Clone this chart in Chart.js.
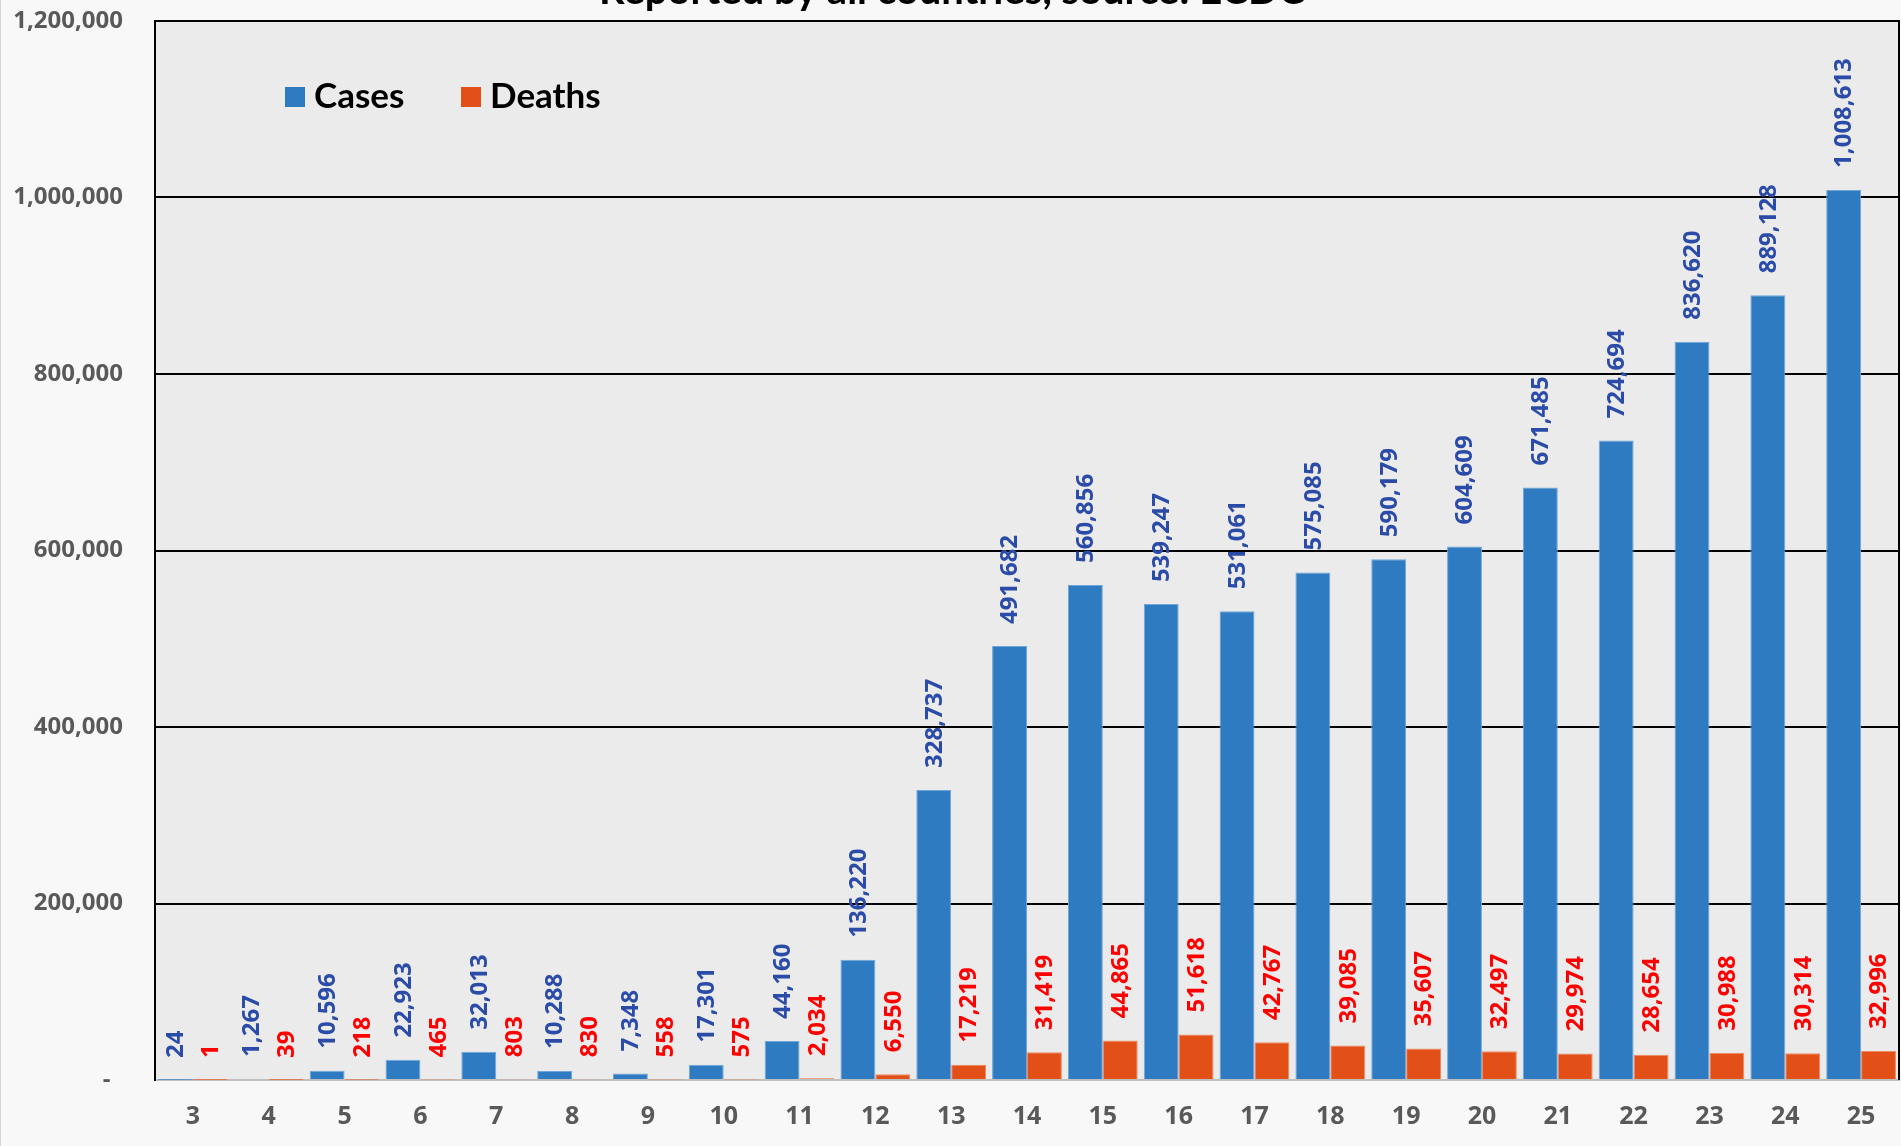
<!DOCTYPE html>
<html>
<head>
<meta charset="utf-8">
<script src="https://cdn.jsdelivr.net/npm/chart.js@4/dist/chart.umd.min.js"></script>
<style>
  html, body { margin: 0; padding: 0; background: #f8f8f8; }
  canvas { display: block; }
</style>
</head>
<body>
<canvas id="weekChart" width="1901" height="1146"></canvas>
<script>
const weeks = ["3", "4", "5", "6", "7", "8", "9", "10", "11", "12", "13", "14",
  "15", "16", "17", "18", "19", "20", "21", "22", "23", "24", "25"];
const cases = [24, 1267, 10596, 22923, 32013, 10288, 7348, 17301, 44160, 136220,
  328737, 491682, 560856, 539247, 531061, 575085, 590179, 604609, 671485, 724694,
  836620, 889128, 1008613];
const deaths = [1, 39, 218, 465, 803, 830, 558, 575, 2034, 6550, 17219, 31419,
  44865, 51618, 42767, 39085, 35607, 32497, 29974, 28654, 30988, 30314, 32996];
const titleText = "Reported by all countries, source: ECDC";

const headFont = "Lato, 'Open Sans', sans-serif";
const sans = "'Open Sans', 'DejaVu Sans', sans-serif";
const fmt = v => v.toLocaleString("en-US");

// background, plot fill, outer frame, title and in-plot legend
const frame = {
  id: "frame",
  beforeDraw(chart) {
    const { ctx, chartArea: a } = chart;
    ctx.save();
    ctx.fillStyle = "#f8f8f8";
    ctx.fillRect(0, 0, chart.width, chart.height);
    ctx.fillStyle = "#ebebeb";
    ctx.fillRect(a.left, a.top, a.right - a.left, a.bottom - a.top);
    ctx.strokeStyle = "#d4d4d4";
    ctx.lineWidth = 1;
    ctx.beginPath();
    ctx.moveTo(0.5, 0);
    ctx.lineTo(0.5, chart.height);
    ctx.stroke();
    ctx.restore();
  },
  afterDraw(chart) {
    const { ctx, chartArea: a } = chart;
    ctx.save();
    ctx.strokeStyle = "#000";
    ctx.lineWidth = 2;
    ctx.beginPath();
    ctx.moveTo(a.left, a.top);
    ctx.lineTo(a.right, a.top);
    ctx.lineTo(a.right, a.bottom);
    ctx.stroke();

    ctx.fillStyle = "#000";
    ctx.font = "bold 40px " + headFont;
    ctx.textAlign = "center";
    ctx.textBaseline = "alphabetic";
    ctx.fillText(titleText, 952, 4);

    // legend
    ctx.font = "bold 35px " + headFont;
    ctx.textAlign = "left";
    ctx.textBaseline = "middle";
    const items = [[285, "Cases", "#2f7bc2"], [461, "Deaths", "#e35017"]];
    items.forEach(([x, label, col]) => {
      ctx.fillStyle = col;
      ctx.fillRect(x, 87, 20, 20);
      ctx.fillStyle = "#000";
      ctx.fillText(label, x + 29, 97);
    });
    ctx.restore();
  }
};

// rotated value labels above each bar
const barLabels = {
  id: "barLabels",
  afterDatasetsDraw(chart) {
    const { ctx } = chart;
    ctx.save();
    ctx.font = "bold 24px " + sans;
    ctx.textAlign = "left";
    ctx.textBaseline = "middle";
    chart.data.datasets.forEach((ds, i) => {
      chart.getDatasetMeta(i).data.forEach((bar, j) => {
        ctx.save();
        ctx.translate(bar.x + 1, bar.y - 22);
        ctx.rotate(-Math.PI / 2);
        ctx.fillStyle = ds.labelColor;
        ctx.fillText(fmt(ds.data[j]), 0, 0);
        ctx.restore();
      });
    });
    ctx.restore();
  }
};

const ctx = document.getElementById("weekChart").getContext("2d");
new Chart(ctx, {
  type: "bar",
  data: {
    labels: weeks,
    datasets: [{
      label: "Cases",
      data: cases,
      backgroundColor: "#2f7bc2",
      borderColor: "#6fa6da",
      borderWidth: 1,
      labelColor: "#2a4ba8",
      categoryPercentage: 0.92,
      barPercentage: 1
    }, {
      label: "Deaths",
      data: deaths,
      backgroundColor: "#e35017",
      borderColor: "#ef8a63",
      borderWidth: 1,
      labelColor: "#ff0000",
      categoryPercentage: 0.92,
      barPercentage: 1
    }]
  },
  options: {
    responsive: false,
    animation: false,
    layout: { padding: { top: 21, right: 2, left: 0, bottom: 0 } },
    plugins: {
      legend: { display: false },
      title: { display: false },
      tooltip: { enabled: false }
    },
    scales: {
      x: {
        offset: true,
        grid: { display: false },
        border: { color: "#bfbfbf", width: 2 },
        ticks: {
          color: "#595959",
          font: { family: sans, size: 25, weight: "bold" },
          padding: 14,
          maxRotation: 0
        },
        afterFit: s => { s.height = 66; }
      },
      y: {
        min: 0,
        max: 1200000,
        border: { color: "#000", width: 2 },
        grid: {
          color: c => (c.tick && c.tick.value === 0 ? "rgba(0,0,0,0)" : "#000"),
          lineWidth: 2,
          drawTicks: false
        },
        ticks: {
          stepSize: 200000,
          color: "#595959",
          font: { family: sans, size: 24, weight: "bold" },
          padding: 32,
          callback: v => (v === 0 ? "-  " : fmt(v))
        },
        afterFit: s => { s.width = 155; s.paddingTop = 0; s.paddingBottom = 0; }
      }
    }
  },
  plugins: [frame, barLabels]
});
</script>
</body>
</html>
